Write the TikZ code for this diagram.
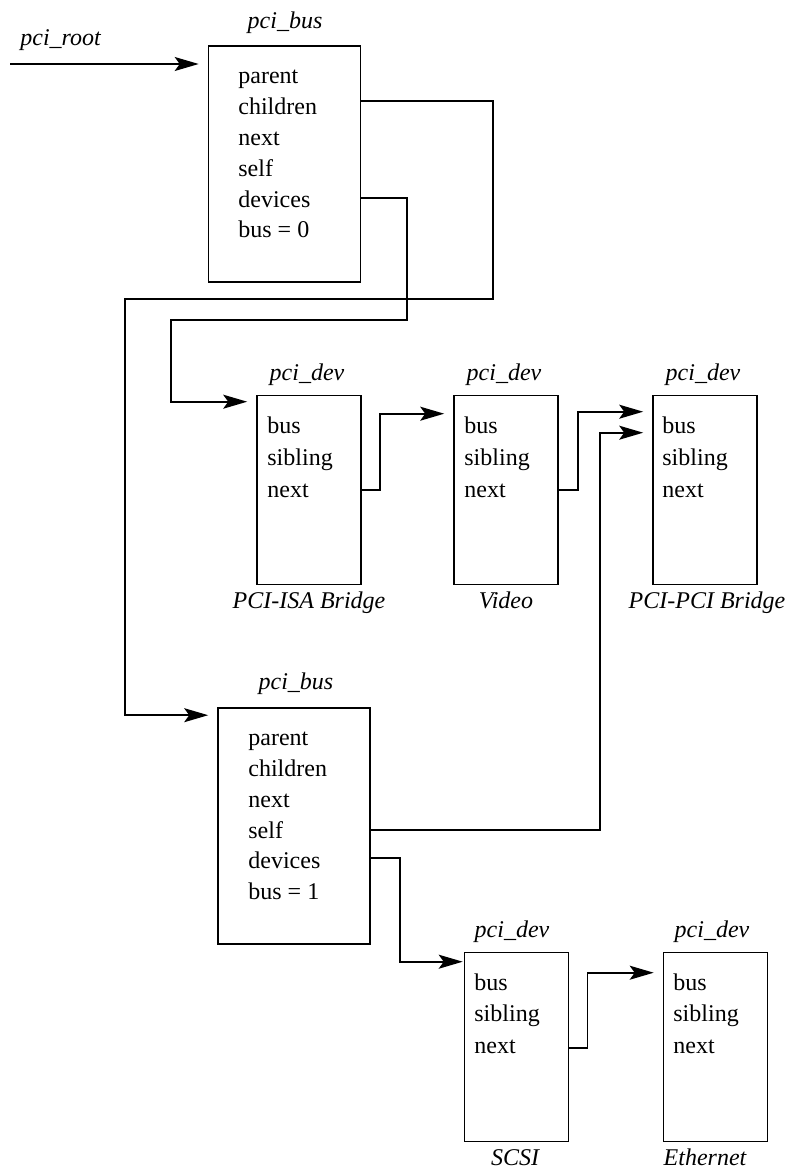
\documentclass[tikz,border=0pt]{standalone}
\usepackage{fontspec}
\setmainfont{Liberation Serif}
\usetikzlibrary{arrows.meta,calc}
\begin{document}
\begin{tikzpicture}[x=0.5pt,y=-0.5pt,
  busbox/.style={draw, line width=0.8pt, inner sep=0pt, minimum width=76pt, minimum height=118pt},
  devbox/.style={draw, line width=0.8pt, inner sep=0pt, minimum width=52pt, minimum height=94.5pt},
  field/.style={anchor=base west, inner sep=0pt, font=\fontsize{12}{14}\selectfont},
  lbl/.style={anchor=base, inner sep=0pt, font=\fontsize{12}{14}\selectfont\itshape},
  link/.style={line width=0.8pt, -{Stealth[length=12pt,width=7pt,inset=2.5pt]}, shorten >=4.5pt}]

\path[use as bounding box, fill=white] (0,0) rectangle (790,1173);

% ---------- pci_bus 0 ----------
\node[busbox] (bus0) at (284.5,164) {};
\node[lbl] (bus0lbl) at (285,28) {pci\_bus};
\node[field] (b0f1) at (238,83) {parent};
\node[field] (b0f2) at (238,114) {children};
\node[field] (b0f3) at (238,145) {next};
\node[field] (b0f4) at (238,176) {self};
\node[field] (b0f5) at (238,207) {devices};
\node[field] (b0f6) at (238,237) {bus = 0};

\node[lbl, anchor=base west] (rootlbl) at (20,45) {pci\_root};
\coordinate (rootstart) at (10,64);

% ---------- pci_bus 1 ----------
\node[busbox] (bus1) at (294,826) {};
\node[lbl] (bus1lbl) at (296,689) {pci\_bus};
\node[field] (b1f1) at (248,745) {parent};
\node[field] (b1f2) at (248,776) {children};
\node[field] (b1f3) at (248,807) {next};
\node[field] (b1f4) at (248,838) {self};
\node[field] (b1f5) at (248,868) {devices};
\node[field] (b1f6) at (248,899) {bus = 1};

% ---------- pci_dev row 1 ----------
\node[devbox] (isa) at (309,490) {};
\node[lbl] (isalbl) at (307,380) {pci\_dev};
\node[field] (isaf1) at (267,433) {bus};
\node[field] (isaf2) at (267,465) {sibling};
\node[field] (isaf3) at (267,497) {next};
\node[lbl] (isaname) at (309,608) {PCI-ISA Bridge};

\node[devbox] (video) at (506,490) {};
\node[lbl] (videolbl) at (504,380) {pci\_dev};
\node[field] (videof1) at (464,433) {bus};
\node[field] (videof2) at (464,465) {sibling};
\node[field] (videof3) at (464,497) {next};
\node[lbl] (videoname) at (506,608) {Video};

\node[devbox] (ppb) at (705,490) {};
\node[lbl] (ppblbl) at (703,380) {pci\_dev};
\node[field] (ppbf1) at (662,433) {bus};
\node[field] (ppbf2) at (662,465) {sibling};
\node[field] (ppbf3) at (662,497) {next};
\node[lbl] (ppbname) at (707,608) {PCI-PCI Bridge};

% ---------- pci_dev row 2 ----------
\node[devbox] (scsi) at (516.5,1047) {};
\node[lbl] (scsilbl) at (512,937) {pci\_dev};
\node[field] (scsif1) at (474,990) {bus};
\node[field] (scsif2) at (474,1021) {sibling};
\node[field] (scsif3) at (474,1053) {next};
\node[lbl] (scsiname) at (515,1165) {SCSI};

\node[devbox] (eth) at (715.5,1047) {};
\node[lbl] (ethlbl) at (712,937) {pci\_dev};
\node[field] (ethf1) at (673,990) {bus};
\node[field] (ethf2) at (673,1021) {sibling};
\node[field] (ethf3) at (673,1053) {next};
\node[lbl] (ethname) at (705,1165) {Ethernet};

% ---------- connectors ----------
\draw[link] (rootstart) -- (bus0.west |- rootstart);

\draw[link] ($(bus0.east |- b0f2.base)+(0,-13)$) -| (493,299) -- (125,299)
  |- ($(bus1.north west)+(0,8)$);

\draw[link] ($(bus0.east |- b0f5.base)+(0,-9)$) -| (407,320) -- (171,320)
  |- ($(isa.north west)+(0,7)$);

\draw[link] ($(isa.east |- isaf3.base)+(0,-7)$) -- ++(18,0)
  |- ($(video.north west)+(0,19)$);

\draw[link] ($(video.east |- videof3.base)+(0,-7)$) -- ++(19,0)
  |- ($(ppb.north west)+(0,17)$);

\draw[link] ($(bus1.east |- b1f4.base)+(0,-8)$) -- ++(229,0)
  |- ($(ppb.north west)+(0,38)$);

\draw[link, shorten >=0.5pt] ($(bus1.east |- b1f5.base)+(0,-10)$) -- ++(29,0)
  |- ($(scsi.north west)+(0,10)$);

\draw[link] ($(scsi.east |- scsif3.base)+(0,-5)$) -- ++(18,0)
  |- ($(eth.north west)+(0,21)$);

\end{tikzpicture}
\end{document}
